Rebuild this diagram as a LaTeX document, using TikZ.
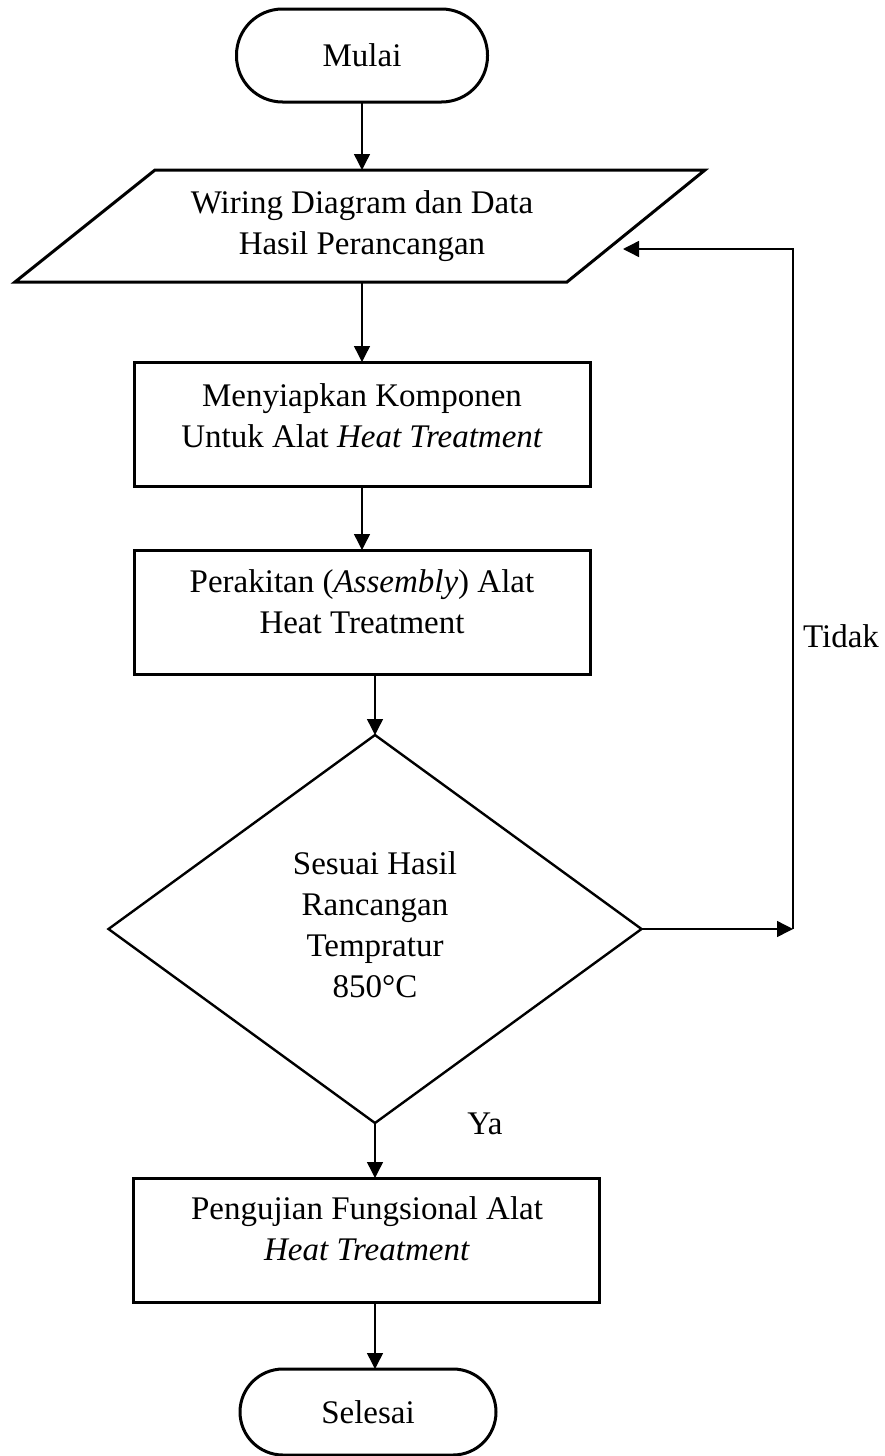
\documentclass[tikz,border=0pt]{standalone}
\usepackage{fontspec}
\setmainfont{Liberation Serif}
\usetikzlibrary{arrows.meta,shapes.geometric}
\begin{document}
\begin{tikzpicture}[x=0.5pt,y=-0.5pt,
  box/.style={draw, line width=1.5pt, outer sep=0pt, inner sep=0pt},
  proc/.style={box, rectangle, minimum height=62pt},
  term/.style={box, rectangle, font=\fontsize{16.5}{20.5}\selectfont},
  dec/.style={draw, line width=1.2pt, diamond, outer sep=0pt, inner sep=0pt, minimum width=266.5pt, minimum height=194pt},
  txt/.style={align=center, inner sep=0pt, font=\fontsize{16.5}{20.5}\selectfont},
  arr/.style={line width=0.7pt, -{Triangle[length=8pt,width=8pt]}}
]
\useasboundingbox (0,0) rectangle (884,1456);

% nodes
\node[term, minimum width=125.5pt, minimum height=46.5pt, rounded corners=23pt] (start) at (362,55.5) {Mulai};

\node[txt, minimum height=56pt, outer sep=0pt] (io) at (362,226) {Wiring Diagram dan Data\\Hasil Perancangan};
\draw[box, line join=miter] (15,282) -- (567,282) -- (705,170) -- (155,170) -- cycle;

\node[proc, minimum width=228pt] (p1) at (362,424) {};
\node[txt] (t1) at (362,416) {Menyiapkan Komponen\\Untuk Alat \textit{Heat Treatment}};

\node[proc, minimum width=228pt] (p2) at (362,612) {};
\node[txt] (t2) at (362,602) {Perakitan (\textit{Assembly}) Alat\\Heat Treatment};

\node[dec] (dec) at (375,929) {};
\node[txt] (dt) at (375,925) {Sesuai Hasil\\Rancangan\\Tempratur\\850°C};

\node[proc, minimum width=233pt] (p3) at (366,1240) {};
\node[txt] (t3) at (367,1229) {Pengujian Fungsional Alat\\\textit{Heat Treatment}};

\node[term, minimum width=128pt, minimum height=43pt, rounded corners=21.5pt] (stop) at (368,1412) {Selesai};

\node[txt] (tidak) at (841,636) {Tidak};
\node[txt] (ya) at (485,1124) {Ya};

\coordinate (corner) at (793,929);
\coordinate (back) at (623,249);

% connectors
\draw[arr] (start.south) -- (io.north);
\draw[arr] (io.south) -- (p1.north);
\draw[arr] (p1.south) -- (p2.north);
\draw[arr] (p2.south -| dec.north) -- (dec.north);
\draw[arr] (dec.south) -- (dec.south |- p3.north);
\draw[arr] (dec.south |- p3.south) -- (dec.south |- stop.north);
\draw[arr] (dec.east) -- (corner);
\draw[arr] (corner) |- (back);
\end{tikzpicture}
\end{document}
